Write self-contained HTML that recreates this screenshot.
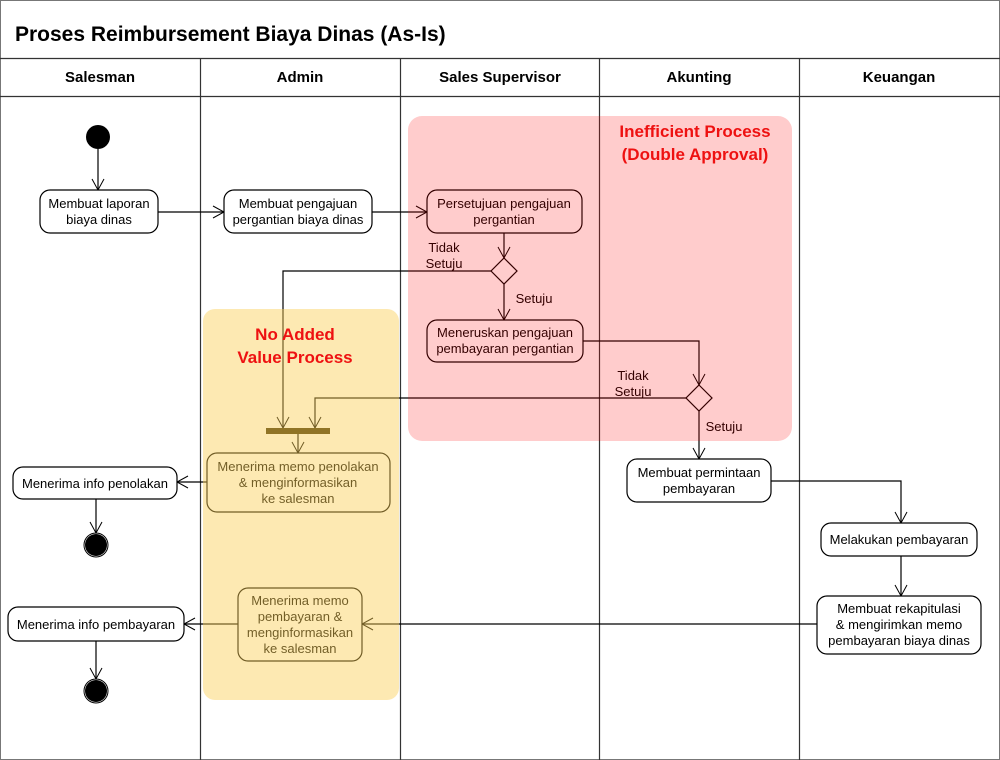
<!DOCTYPE html>
<html><head><meta charset="utf-8"><style>body{margin:0;background:#fff}svg{display:block}text{font-family:"Liberation Sans",Arial,sans-serif}</style></head><body>
<svg width="1000" height="760" viewBox="0 0 1000 760" xmlns="http://www.w3.org/2000/svg">
<defs><marker id="a" markerWidth="14" markerHeight="14" refX="12" refY="7" orient="auto" markerUnits="userSpaceOnUse"><path d="M1,1 L12,7 L1,13" fill="none" stroke="#000" stroke-width="1"/></marker></defs>
<rect x="0.5" y="0.5" width="999" height="759" fill="#fff" stroke="#777"/>
<text x="15" y="41" font-size="21" font-weight="bold">Proses Reimbursement Biaya Dinas (As-Is)</text>
<g stroke="#333" stroke-width="1.2" fill="none">
<line x1="0" y1="58.5" x2="1000" y2="58.5"/><line x1="0" y1="96.5" x2="1000" y2="96.5"/>
<line x1="200.5" y1="58" x2="200.5" y2="760"/><line x1="400.5" y1="58" x2="400.5" y2="760"/>
<line x1="599.5" y1="58" x2="599.5" y2="760"/><line x1="799.5" y1="58" x2="799.5" y2="760"/>
</g>
<g font-size="15" font-weight="bold" text-anchor="middle">
<text x="100" y="82">Salesman</text><text x="300" y="82">Admin</text><text x="500" y="82">Sales Supervisor</text><text x="699" y="82">Akunting</text><text x="899" y="82">Keuangan</text></g>
<g stroke="#000" stroke-width="1.2" fill="none" marker-end="url(#a)">
<path d="M98,149V190"/><path d="M158,212H224"/><path d="M372,212H427"/><path d="M504,233V258"/>
<path d="M491,271H283V428"/><path d="M504,284V320"/><path d="M583,341H699V385"/>
<path d="M686,398H315V428"/><path d="M699,411V459"/><path d="M298,433V453"/>
<path d="M207,482H177"/><path d="M96,499V533"/><path d="M771,481H901V523"/>
<path d="M901,556V596"/><path d="M817,624H362"/><path d="M238,624H184"/><path d="M96,641V679"/>
</g>
<circle cx="98" cy="137" r="12" fill="#000"/>
<g fill="#000"><circle cx="96" cy="545" r="11"/><circle cx="96" cy="691" r="11"/></g>
<g fill="none" stroke="#000"><circle cx="96" cy="545" r="12"/><circle cx="96" cy="691" r="12"/></g>
<g fill="#fff" stroke="#000" stroke-width="1.2">
<rect x="40" y="190" width="118" height="43" rx="10"/>
<rect x="224" y="190" width="148" height="43" rx="10"/>
<rect x="427" y="190" width="155" height="43" rx="10"/>
<path d="M504,258L517,271L504,284L491,271Z"/>
<rect x="427" y="320" width="156" height="42" rx="10"/>
<path d="M699,385L712,398L699,411L686,398Z"/>
<rect x="207" y="453" width="183" height="59" rx="10"/>
<rect x="627" y="459" width="144" height="43" rx="10"/>
<rect x="821" y="523" width="156" height="33" rx="10"/>
<rect x="817" y="596" width="164" height="58" rx="10"/>
<rect x="238" y="588" width="124" height="73" rx="10"/>
<rect x="13" y="467" width="164" height="32" rx="10"/>
<rect x="8" y="607" width="176" height="34" rx="10"/>
</g>
<rect x="266" y="428" width="64" height="6" fill="#3a2a00"/>
<g font-size="13" text-anchor="middle" fill="#000">
<text x="99" y="208">Membuat laporan</text><text x="99" y="224">biaya dinas</text>
<text x="298" y="208">Membuat pengajuan</text><text x="298" y="224">pergantian biaya dinas</text>
<text x="504" y="208">Persetujuan pengajuan</text><text x="504" y="224">pergantian</text>
<text x="505" y="337">Meneruskan pengajuan</text><text x="505" y="353">pembayaran pergantian</text>
<text x="298" y="471">Menerima memo penolakan</text><text x="298" y="487">&amp; menginformasikan</text><text x="298" y="503">ke salesman</text>
<text x="699" y="477">Membuat permintaan</text><text x="699" y="493">pembayaran</text>
<text x="899" y="544">Melakukan pembayaran</text>
<text x="899" y="613">Membuat rekapitulasi</text><text x="899" y="629">&amp; mengirimkan memo</text><text x="899" y="645">pembayaran biaya dinas</text>
<text x="300" y="605">Menerima memo</text><text x="300" y="621">pembayaran &amp;</text><text x="300" y="637">menginformasikan</text><text x="300" y="653">ke salesman</text>
<text x="95" y="488">Menerima info penolakan</text>
<text x="96" y="629">Menerima info pembayaran</text>
<text x="444" y="252">Tidak</text><text x="444" y="268">Setuju</text>
<text x="534" y="303">Setuju</text>
<text x="633" y="380">Tidak</text><text x="633" y="396">Setuju</text>
<text x="724" y="431">Setuju</text>
</g>
<rect x="408" y="116" width="384" height="325" rx="14" fill="#ff0000" fill-opacity="0.2"/>
<rect x="203" y="309" width="196" height="391" rx="12" fill="#fbce55" fill-opacity="0.45"/>
<g font-size="17" font-weight="bold" text-anchor="middle" fill="#ee1111">
<text x="695" y="137">Inefficient Process</text><text x="695" y="160">(Double Approval)</text>
<text x="295" y="340">No Added</text><text x="295" y="363">Value Process</text></g>
</svg>
</body></html>
